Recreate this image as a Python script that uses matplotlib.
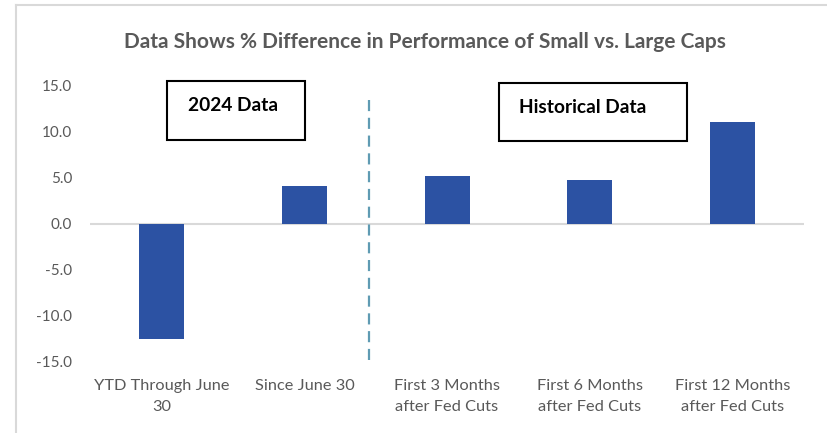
import matplotlib
matplotlib.use('Agg')
import matplotlib.pyplot as plt
from matplotlib.patches import Rectangle
from matplotlib.lines import Line2D
import numpy as np

plt.rcParams['font.family'] = ['Lato', 'DejaVu Sans']

categories = ['YTD Through June\n30', 'Since June 30', 'First 3 Months\nafter Fed Cuts',
              'First 6 Months\nafter Fed Cuts', 'First 12 Months\nafter Fed Cuts']
values = [-12.5, 4.1, 5.2, 4.8, 11.0]
yticks = [-15, -10, -5, 0, 5, 10, 15]

title = 'Data Shows % Difference in Performance of Small vs. Large Caps'
grey = '#595959'
bar_color = '#2c52a3'

fig = plt.figure(figsize=(8.28, 4.33), dpi=100)
ax = fig.add_axes([0.1092, 0.1647, 0.8614, 0.6374])

x = np.arange(len(categories))
ax.bar(x, values, width=0.315, color=bar_color, zorder=3)
ax.axhline(0, color='#d9d9d9', lw=1.5, zorder=2)

ax.set_xlim(-0.5, len(categories) - 0.5)
ax.set_ylim(-15, 15)
ax.set_yticks(yticks)
ax.set_yticklabels([f'{v:.1f}' for v in yticks])
ax.set_xticks(x)
ax.set_xticklabels(categories, linespacing=1.65)
ax.tick_params(axis='y', length=0, pad=13, labelsize=11, labelcolor=grey)
ax.tick_params(axis='x', length=0, pad=12.5, labelsize=11.8, labelcolor=grey)
for s in ax.spines.values():
    s.set_visible(False)

# divider between 2024 and historical data
ax.plot([1.45, 1.45], [-14.8, 13.45], color='#5f9bb3', lw=1.6, ls=(0, (5, 3)), zorder=2)

# label boxes
ax.add_patch(Rectangle((0.035, 9.13), 0.971, 6.34, fill=False, ec='black', lw=1.5, clip_on=False))
ax.text(0.182, 12.83, '2024 Data', fontsize=13.8, fontweight='bold', va='center', ha='left')
ax.add_patch(Rectangle((2.363, 9.02), 1.317, 6.31, fill=False, ec='black', lw=1.5, clip_on=False))
ax.text(2.506, 12.64, 'Historical Data', fontsize=13.8, fontweight='bold', va='center', ha='left')

fig.text(0.513, 1 - 42 / 433, title, ha='center', va='center', fontsize=15,
         fontweight='bold', color=grey)

# chart frame
fig.add_artist(Line2D([16 / 828, 16 / 828], [0, 1 - 5 / 433], color='#d9d9d9', lw=1.5))
fig.add_artist(Line2D([16 / 828, 1], [1 - 5 / 433, 1 - 5 / 433], color='#d9d9d9', lw=1.5))

fig.savefig('out.png', dpi=100)
